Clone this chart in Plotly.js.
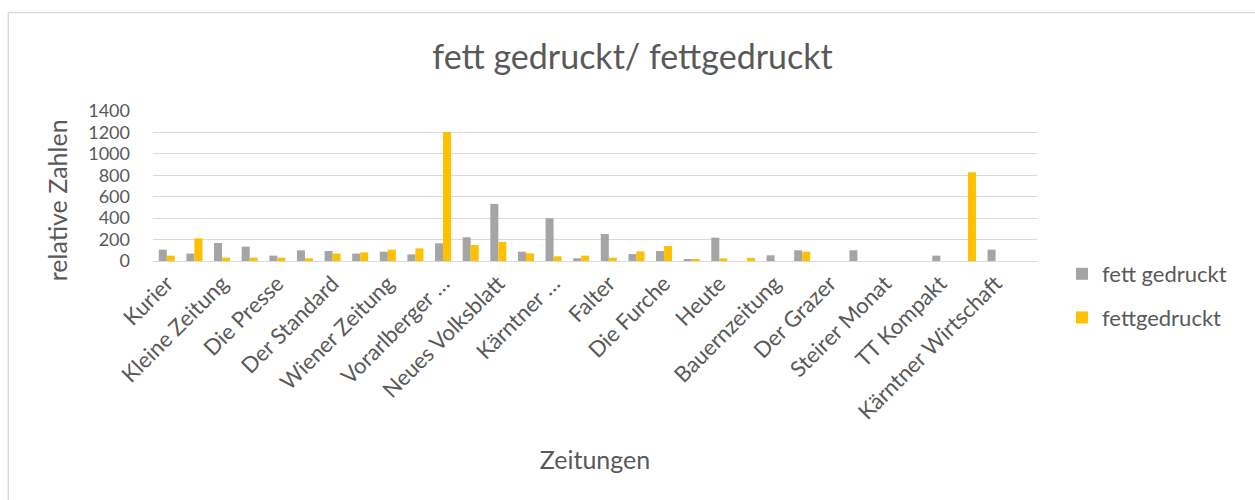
<!DOCTYPE html>
<html>
<head>
<meta charset="utf-8">
<script src="https://cdn.plot.ly/plotly-3.0.1.min.js"></script>
<style>
  html, body { margin: 0; padding: 0; background: #ffffff; }
  #chart { width: 1255px; height: 500px; }
</style>
</head>
<body>
<div id="chart"></div>
<script>
// Visible tick labels (Excel shows every second category)
const tickLabels = [
  "Kurier", "Kleine Zeitung", "Die Presse", "Der Standard", "Wiener Zeitung",
  "Vorarlberger …", "Neues Volksblatt", "Kärntner …", "Falter", "Die Furche",
  "Heute", "Bauernzeitung", "Der Grazer", "Steirer Monat", "TT Kompakt",
  "Kärntner Wirtschaft"
];

// Series values for all 32 categories (blank = no bar)
const fettGedruckt = [
  106, 69, 168, 134, 50, 100, 93, 69, 87, 62,
  165, 221, 533, 87, 399, 25, 252, 65, 93, 16,
  218, null, 53, 100, null, 100, null, null, 50, null,
  106, null
];
const fettgedruckt = [
  50, 212, 31, 31, 31, 25, 69, 81, 106, 118,
  1203, 150, 178, 72, 44, 50, 31, 90, 140, 12,
  25, 28, null, 87, null, null, null, null, null, 829,
  null, null
];

const seriesNames = ["fett gedruckt", "fettgedruckt"];
const seriesColors = ["#A5A5A5", "#FFC000"];

const categoryIndex = fettGedruckt.map((_, i) => i);
const tickPositions = tickLabels.map((_, i) => i * 2);

const FONT = "Lato, 'Open Sans', sans-serif";
const TXT = "#595959";

const traces = [fettGedruckt, fettgedruckt].map((vals, k) => ({
  type: "bar",
  name: seriesNames[k],
  x: categoryIndex,
  y: vals,
  legendgroup: "g" + k,
  marker: { color: seriesColors[k], line: { width: 0 } },
  hoverinfo: "x+y+name"
}));

const layout = {
  width: 1255,
  height: 500,
  autosize: false,
  paper_bgcolor: "#ffffff",
  plot_bgcolor: "#ffffff",
  margin: { l: 153, r: 218, t: 111, b: 239, pad: 0 },
  font: { family: FONT, color: TXT, size: 20 },
  title: {
    text: "fett gedruckt/ fettgedruckt",
    font: { family: FONT, size: 34, color: TXT },
    x: 0.504, xanchor: "center",
    y: 0.886, yanchor: "middle",
    xref: "container", yref: "container"
  },
  barmode: "group",
  bargap: 0.42,
  bargroupgap: 0,
  xaxis: {
    range: [-0.5, 31.5],
    tickmode: "array",
    tickvals: tickPositions,
    ticktext: tickLabels,
    tickangle: -45,
    tickfont: { family: FONT, size: 22, color: TXT },
    showgrid: false,
    zeroline: false,
    showline: true,
    linecolor: "#D9D9D9",
    linewidth: 1,
    ticks: "",
    title: {
      text: "Zeitungen",
      font: { family: FONT, size: 25, color: TXT },
      standoff: 27
    }
  },
  yaxis: {
    range: [0, 1400],
    dtick: 200,
    tick0: 0,
    showgrid: true,
    gridcolor: "#D9D9D9",
    gridwidth: 1,
    zeroline: false,
    showline: false,
    ticks: "",
    ticklabelstandoff: 22,
    tickfont: { family: FONT, size: 18, color: TXT }
  },
  legend: {
    xref: "container", yref: "container",
    x: 1062 / 1255, y: 1 - 253 / 500,
    xanchor: "left", yanchor: "top",
    traceorder: "grouped",
    tracegroupgap: 12,
    font: { family: FONT, size: 22, color: TXT },
    bgcolor: "rgba(0,0,0,0)"
  },
  annotations: [{
    text: "relative Zahlen",
    textangle: -90,
    xref: "paper", yref: "paper",
    x: (57 - 153) / 884, y: (260.7 - 200) / 150,
    xanchor: "center", yanchor: "middle",
    showarrow: false,
    font: { family: FONT, size: 25, color: TXT }
  }],
  shapes: [
    { type: "line", xref: "paper", yref: "paper",
      x0: (8.3 - 153) / 884, x1: (1300 - 153) / 884,
      y0: (260.7 - 12.3) / 150, y1: (260.7 - 12.3) / 150,
      line: { color: "#D9D9D9", width: 1.5 } },
    { type: "line", xref: "paper", yref: "paper",
      x0: (8.3 - 153) / 884, x1: (8.3 - 153) / 884,
      y0: (260.7 - 12.3) / 150, y1: (260.7 - 520) / 150,
      line: { color: "#D9D9D9", width: 1.5 } }
  ]
};

Plotly.newPlot("chart", traces, layout, { displayModeBar: false, staticPlot: false });
</script>
</body>
</html>
